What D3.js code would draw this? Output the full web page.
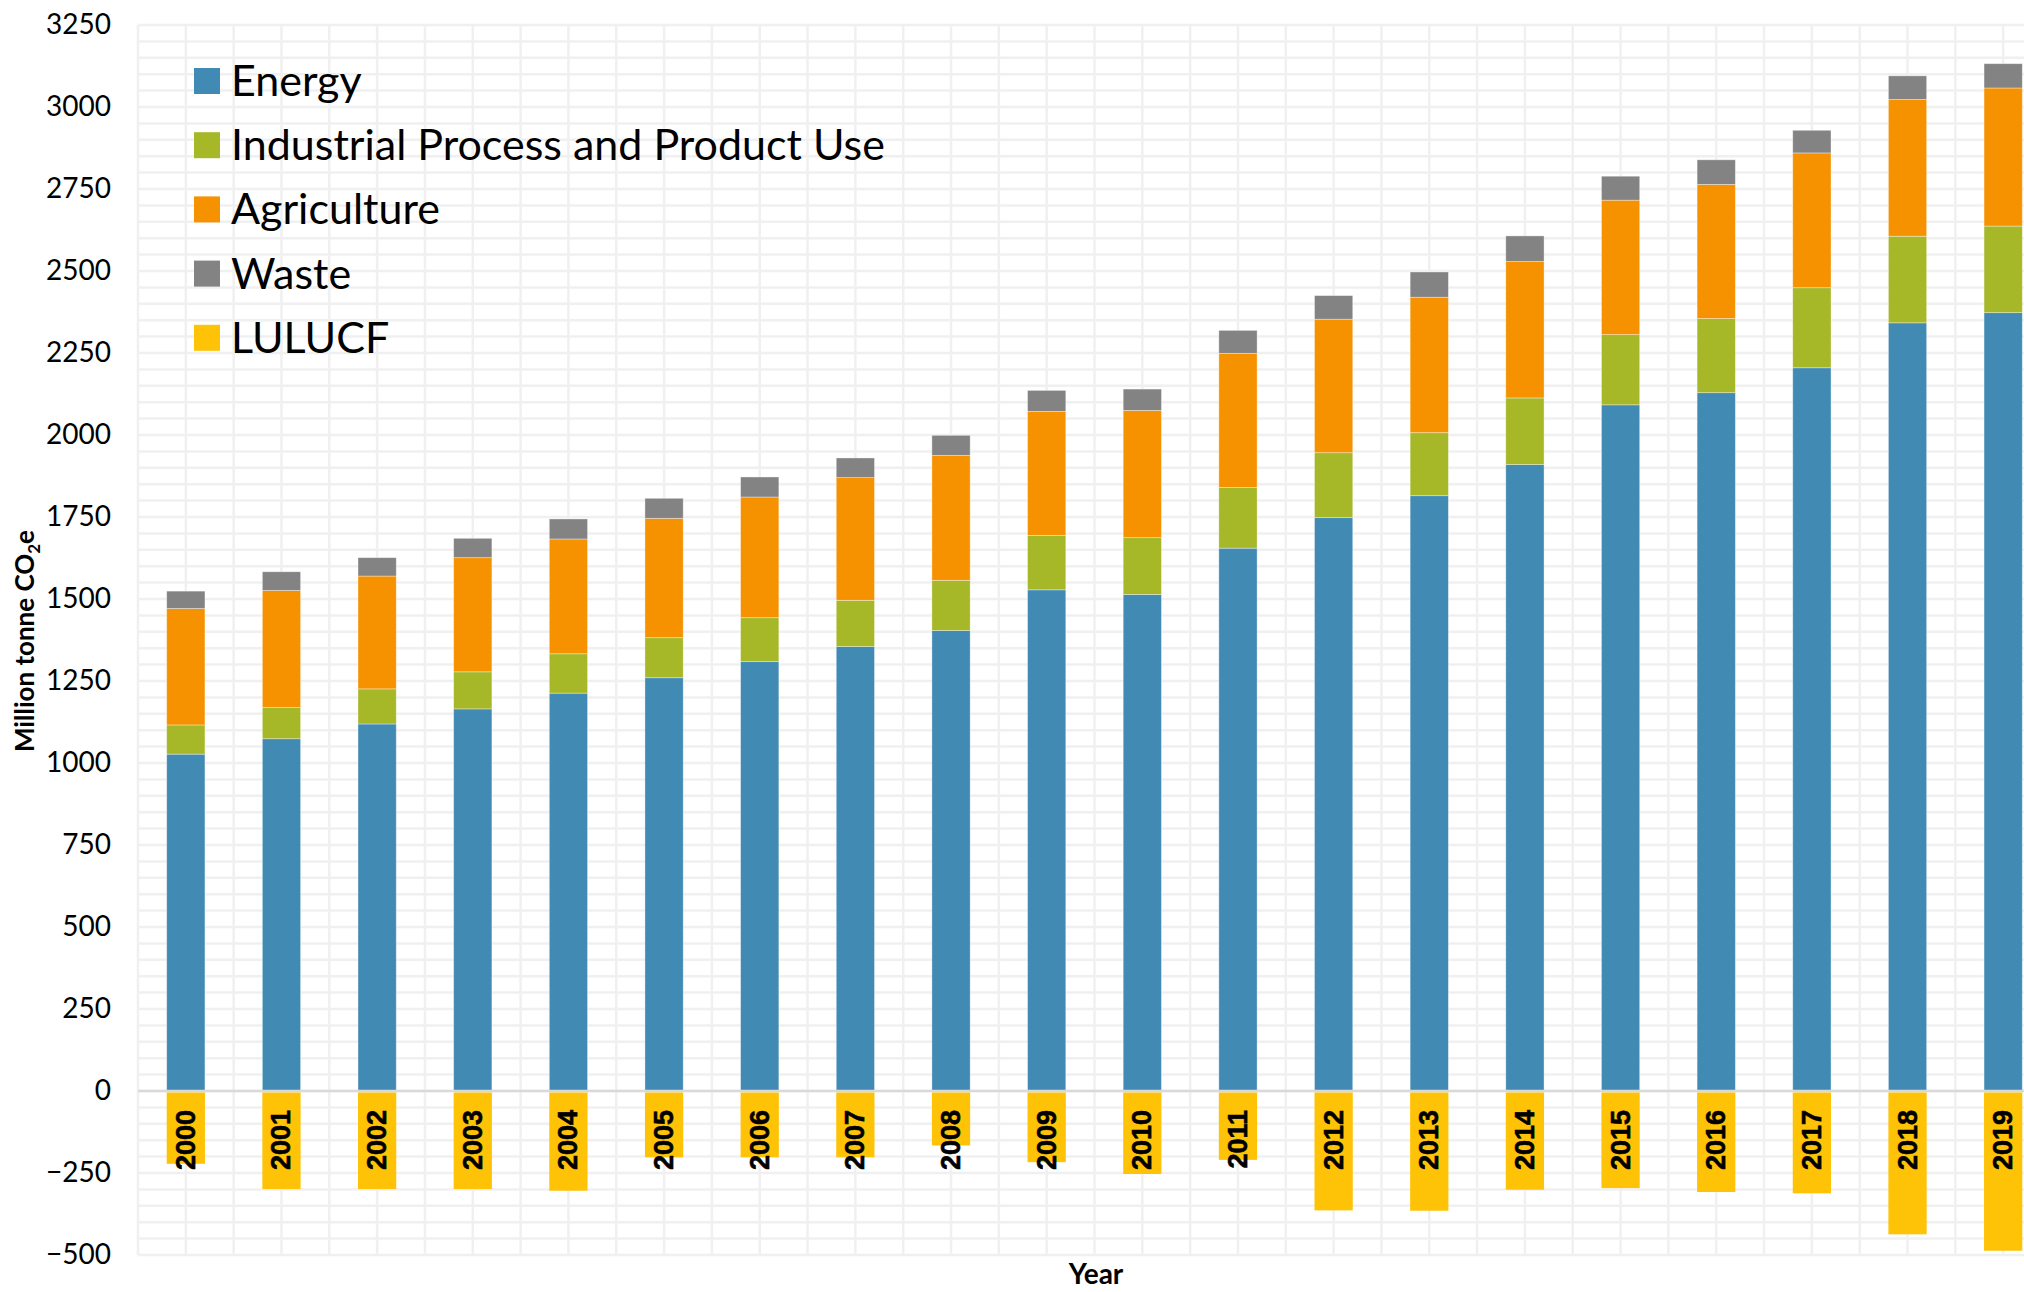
<!DOCTYPE html>
<html>
<head>
<meta charset="utf-8">
<script src="https://cdn.jsdelivr.net/npm/d3@7"></script>
<style>
  html, body { margin: 0; padding: 0; background: #fff; }
  svg { display: block; }
</style>
</head>
<body>
<div id="chart"></div>
<script>
// Data (million tonne CO2e)
var years = ['2000', '2001', '2002', '2003', '2004', '2005', '2006', '2007', '2008', '2009',
             '2010', '2011', '2012', '2013', '2014', '2015', '2016', '2017', '2018', '2019'];
var energy      = [1027, 1074, 1119, 1165, 1213, 1260, 1309, 1355, 1404, 1528,
                   1514, 1655, 1748, 1815, 1910, 2092, 2129, 2205, 2342, 2373];
var industrial  = [89, 95, 107, 113, 120, 122, 134, 141, 153, 166,
                   173, 185, 198, 192, 203, 214, 226, 244, 264, 264];
var agriculture = [355, 357, 344, 348, 350, 364, 368, 374, 381, 378,
                   388, 409, 407, 413, 416, 410, 409, 411, 417, 421];
var waste       = [53, 57, 56, 59, 61, 61, 61, 60, 61, 64,
                   65, 70, 72, 77, 78, 73, 75, 69, 72, 74];
var lulucf      = [-222, -299, -299, -299, -304, -202, -202, -202, -166, -217,
                   -253, -210, -364, -365, -301, -296, -308, -312, -437, -487];

var seriesNames  = ['Energy', 'Industrial Process and Product Use', 'Agriculture', 'Waste', 'LULUCF'];
var seriesColors = ['#418ab3', '#a6b727', '#f69200', '#838383', '#fec306'];
var yTicks = [-500, -250, 0, 250, 500, 750, 1000, 1250, 1500, 1750, 2000, 2250, 2500, 2750, 3000, 3250];

var W = 2024, H = 1292;
var margin = { left: 138, top: 25, bottom: 37 };

var svg = d3.select('#chart').append('svg')
  .attr('width', W)
  .attr('height', H)
  .attr('viewBox', '0 0 ' + W + ' ' + H);

// Scales: 20 bands of ~95.6px; the last band runs past the right edge, as in the source
var step = 95.65;
var x = d3.scaleBand()
  .domain(years)
  .range([margin.left, margin.left + step * years.length])
  .paddingInner(0.6)
  .paddingOuter(0.3);

var y = d3.scaleLinear()
  .domain([-500, 3250])
  .range([H - margin.bottom, margin.top]);

var plotRight = W;

// Grid: horizontal every 50, vertical at band centres and band boundaries
var grid = svg.append('g').attr('class', 'grid');
grid.selectAll('line.h')
  .data(d3.range(-500, 3251, 50))
  .join('line')
  .attr('class', 'h')
  .attr('x1', margin.left)
  .attr('x2', plotRight)
  .attr('y1', function (d) { return y(d); })
  .attr('y2', function (d) { return y(d); })
  .attr('stroke', '#f0f0f0')
  .attr('stroke-width', 2.5);

var vLines = [];
years.forEach(function (yr) {
  var c = x(yr) + x.bandwidth() / 2;
  vLines.push(c - x.step() / 2, c);
});
vLines.push(margin.left + x.step() * years.length);
grid.selectAll('line.v')
  .data(vLines.filter(function (v) { return v <= plotRight; }))
  .join('line')
  .attr('class', 'v')
  .attr('x1', function (d) { return d; })
  .attr('x2', function (d) { return d; })
  .attr('y1', y(3250))
  .attr('y2', y(-500))
  .attr('stroke', '#f0f0f0')
  .attr('stroke-width', 2.5);

// Stacked positive series
var rows = years.map(function (yr, i) {
  return { year: yr, Energy: energy[i], Industrial: industrial[i],
           Agriculture: agriculture[i], Waste: waste[i] };
});
var keys = ['Energy', 'Industrial', 'Agriculture', 'Waste'];
var stacked = d3.stack().keys(keys)(rows);

svg.append('g')
  .selectAll('g')
  .data(stacked)
  .join('g')
  .attr('fill', function (d, i) { return seriesColors[i]; })
  .selectAll('rect')
  .data(function (d) { return d; })
  .join('rect')
  .attr('x', function (d) { return x(d.data.year); })
  .attr('y', function (d) { return y(d[1]); })
  .attr('width', x.bandwidth())
  .attr('height', function (d) { return y(d[0]) - y(d[1]); })
  .attr('stroke', '#ffffff')
  .attr('stroke-opacity', 0.45)
  .attr('stroke-width', 0.8);

// Zero line
svg.append('line')
  .attr('x1', margin.left)
  .attr('x2', plotRight)
  .attr('y1', y(0))
  .attr('y2', y(0))
  .attr('stroke', '#d9d9d9')
  .attr('stroke-width', 2.5);

// LULUCF (negative)
svg.append('g')
  .attr('fill', seriesColors[4])
  .selectAll('rect')
  .data(lulucf)
  .join('rect')
  .attr('x', function (d, i) { return x(years[i]); })
  .attr('y', y(0) + 1.5)
  .attr('width', x.bandwidth())
  .attr('height', function (d) { return y(d) - y(0) - 1.5; });

// Year labels inside the LULUCF bars, reading upwards
svg.append('g')
  .selectAll('text')
  .data(years)
  .join('text')
  .attr('transform', function (d) {
    return 'translate(' + (x(d) + x.bandwidth() / 2 + 9) + ',' + (y(0) + 19) + ') rotate(-90)';
  })
  .attr('text-anchor', 'end')
  .attr('font-family', 'Liberation Sans, Arial, sans-serif')
  .attr('font-weight', 'bold')
  .attr('font-size', '27px')
  .attr('fill', '#000')
  .attr('stroke', '#000')
  .attr('stroke-width', 0.6)
  .text(function (d) { return d; });

// Y axis labels
var yAxis = svg.append('g')
  .attr('transform', 'translate(' + margin.left + ',0)')
  .call(d3.axisLeft(y).tickValues(yTicks).tickFormat(d3.format('d')).tickSize(0).tickPadding(27));
yAxis.select('.domain').remove();
yAxis.selectAll('text')
  .attr('font-family', 'Lato, sans-serif')
  .attr('font-size', '28px')
  .attr('fill', '#000');

// Axis titles
var yTitle = svg.append('text')
  .attr('transform', 'translate(34,641) rotate(-90)')
  .attr('text-anchor', 'middle')
  .attr('font-family', 'Lato, sans-serif')
  .attr('font-weight', 'bold')
  .attr('font-size', '26px')
  .attr('fill', '#000');
yTitle.append('tspan').text('Million tonne CO');
yTitle.append('tspan').attr('font-size', '17px').attr('dy', '6').text('2');
yTitle.append('tspan').attr('dy', '-6').text('e');

svg.append('text')
  .attr('x', 1096)
  .attr('y', 1284)
  .attr('text-anchor', 'middle')
  .attr('font-family', 'Lato, sans-serif')
  .attr('font-weight', 'bold')
  .attr('font-size', '28px')
  .attr('fill', '#000')
  .text('Year');

// Legend
var legend = svg.append('g')
  .selectAll('g')
  .data(seriesNames)
  .join('g')
  .attr('transform', function (d, i) { return 'translate(194,' + (81 + i * 64.2) + ')'; });

legend.append('rect')
  .attr('x', 0)
  .attr('y', -13)
  .attr('width', 26)
  .attr('height', 26)
  .attr('fill', function (d, i) { return seriesColors[i]; });

legend.append('text')
  .attr('x', 37)
  .attr('y', 0)
  .attr('dy', '0.35em')
  .attr('font-family', 'Lato, sans-serif')
  .attr('font-size', '43px')
  .attr('fill', '#000')
  .text(function (d) { return d; });
</script>
</body>
</html>
